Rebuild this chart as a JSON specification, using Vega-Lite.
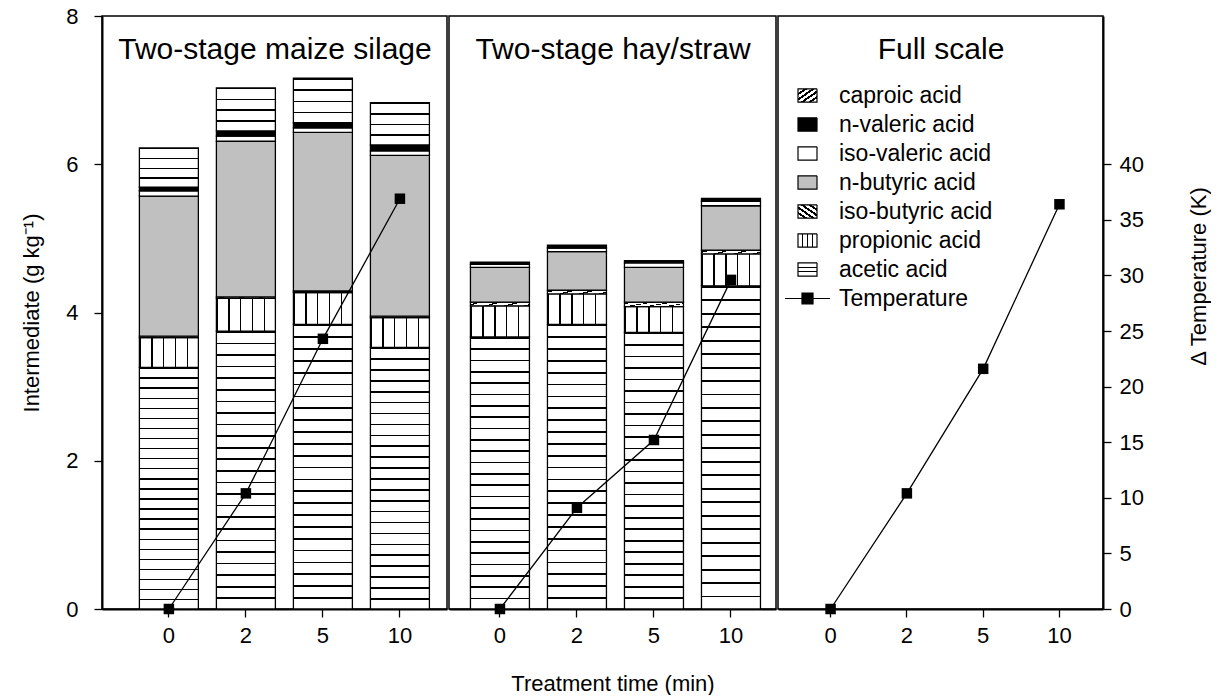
{
  "$schema": "https://vega.github.io/schema/vega-lite/v6.json",
  "background": "white",
  "padding": {"top": 4, "left": 20, "right": 0, "bottom": 0},
  "spacing": 0,
  "datasets": {
    "acidOrder": [
      {"acid": "acetic acid", "rank": 1},
      {"acid": "propionic acid", "rank": 2},
      {"acid": "iso-butyric acid", "rank": 3},
      {"acid": "n-butyric acid", "rank": 4},
      {"acid": "iso-valeric acid", "rank": 5},
      {"acid": "n-valeric acid", "rank": 6},
      {"acid": "caproic acid", "rank": 7}
    ],
    "acids": [
      {"panel": "Two-stage maize silage", "time": 0, "acid": "acetic acid", "value": 3.26},
      {"panel": "Two-stage maize silage", "time": 0, "acid": "propionic acid", "value": 0.40},
      {"panel": "Two-stage maize silage", "time": 0, "acid": "iso-butyric acid", "value": 0.02},
      {"panel": "Two-stage maize silage", "time": 0, "acid": "n-butyric acid", "value": 1.89},
      {"panel": "Two-stage maize silage", "time": 0, "acid": "iso-valeric acid", "value": 0.07},
      {"panel": "Two-stage maize silage", "time": 0, "acid": "n-valeric acid", "value": 0.05},
      {"panel": "Two-stage maize silage", "time": 0, "acid": "caproic acid", "value": 0.53},
      {"panel": "Two-stage maize silage", "time": 2, "acid": "acetic acid", "value": 3.75},
      {"panel": "Two-stage maize silage", "time": 2, "acid": "propionic acid", "value": 0.44},
      {"panel": "Two-stage maize silage", "time": 2, "acid": "iso-butyric acid", "value": 0.02},
      {"panel": "Two-stage maize silage", "time": 2, "acid": "n-butyric acid", "value": 2.10},
      {"panel": "Two-stage maize silage", "time": 2, "acid": "iso-valeric acid", "value": 0.07},
      {"panel": "Two-stage maize silage", "time": 2, "acid": "n-valeric acid", "value": 0.07},
      {"panel": "Two-stage maize silage", "time": 2, "acid": "caproic acid", "value": 0.58},
      {"panel": "Two-stage maize silage", "time": 5, "acid": "acetic acid", "value": 3.84},
      {"panel": "Two-stage maize silage", "time": 5, "acid": "propionic acid", "value": 0.43},
      {"panel": "Two-stage maize silage", "time": 5, "acid": "iso-butyric acid", "value": 0.02},
      {"panel": "Two-stage maize silage", "time": 5, "acid": "n-butyric acid", "value": 2.14},
      {"panel": "Two-stage maize silage", "time": 5, "acid": "iso-valeric acid", "value": 0.06},
      {"panel": "Two-stage maize silage", "time": 5, "acid": "n-valeric acid", "value": 0.07},
      {"panel": "Two-stage maize silage", "time": 5, "acid": "caproic acid", "value": 0.60},
      {"panel": "Two-stage maize silage", "time": 10, "acid": "acetic acid", "value": 3.53},
      {"panel": "Two-stage maize silage", "time": 10, "acid": "propionic acid", "value": 0.40},
      {"panel": "Two-stage maize silage", "time": 10, "acid": "iso-butyric acid", "value": 0.02},
      {"panel": "Two-stage maize silage", "time": 10, "acid": "n-butyric acid", "value": 2.17},
      {"panel": "Two-stage maize silage", "time": 10, "acid": "iso-valeric acid", "value": 0.06},
      {"panel": "Two-stage maize silage", "time": 10, "acid": "n-valeric acid", "value": 0.08},
      {"panel": "Two-stage maize silage", "time": 10, "acid": "caproic acid", "value": 0.57},
      {"panel": "Two-stage hay/straw", "time": 0, "acid": "acetic acid", "value": 3.67},
      {"panel": "Two-stage hay/straw", "time": 0, "acid": "propionic acid", "value": 0.42},
      {"panel": "Two-stage hay/straw", "time": 0, "acid": "iso-butyric acid", "value": 0.05},
      {"panel": "Two-stage hay/straw", "time": 0, "acid": "n-butyric acid", "value": 0.47},
      {"panel": "Two-stage hay/straw", "time": 0, "acid": "iso-valeric acid", "value": 0.04},
      {"panel": "Two-stage hay/straw", "time": 0, "acid": "n-valeric acid", "value": 0.03},
      {"panel": "Two-stage hay/straw", "time": 2, "acid": "acetic acid", "value": 3.84},
      {"panel": "Two-stage hay/straw", "time": 2, "acid": "propionic acid", "value": 0.41},
      {"panel": "Two-stage hay/straw", "time": 2, "acid": "iso-butyric acid", "value": 0.05},
      {"panel": "Two-stage hay/straw", "time": 2, "acid": "n-butyric acid", "value": 0.52},
      {"panel": "Two-stage hay/straw", "time": 2, "acid": "iso-valeric acid", "value": 0.05},
      {"panel": "Two-stage hay/straw", "time": 2, "acid": "n-valeric acid", "value": 0.04},
      {"panel": "Two-stage hay/straw", "time": 5, "acid": "acetic acid", "value": 3.73},
      {"panel": "Two-stage hay/straw", "time": 5, "acid": "propionic acid", "value": 0.35},
      {"panel": "Two-stage hay/straw", "time": 5, "acid": "iso-butyric acid", "value": 0.06},
      {"panel": "Two-stage hay/straw", "time": 5, "acid": "n-butyric acid", "value": 0.47},
      {"panel": "Two-stage hay/straw", "time": 5, "acid": "iso-valeric acid", "value": 0.06},
      {"panel": "Two-stage hay/straw", "time": 5, "acid": "n-valeric acid", "value": 0.03},
      {"panel": "Two-stage hay/straw", "time": 10, "acid": "acetic acid", "value": 4.36},
      {"panel": "Two-stage hay/straw", "time": 10, "acid": "propionic acid", "value": 0.43},
      {"panel": "Two-stage hay/straw", "time": 10, "acid": "iso-butyric acid", "value": 0.05},
      {"panel": "Two-stage hay/straw", "time": 10, "acid": "n-butyric acid", "value": 0.60},
      {"panel": "Two-stage hay/straw", "time": 10, "acid": "iso-valeric acid", "value": 0.06},
      {"panel": "Two-stage hay/straw", "time": 10, "acid": "n-valeric acid", "value": 0.04}
    ],
    "temp": [
      {"panel": "Two-stage maize silage", "time": 0, "temp": 0},
      {"panel": "Two-stage maize silage", "time": 2, "temp": 10.4},
      {"panel": "Two-stage maize silage", "time": 5, "temp": 24.3},
      {"panel": "Two-stage maize silage", "time": 10, "temp": 36.9},
      {"panel": "Two-stage hay/straw", "time": 0, "temp": 0},
      {"panel": "Two-stage hay/straw", "time": 2, "temp": 9.1},
      {"panel": "Two-stage hay/straw", "time": 5, "temp": 15.2},
      {"panel": "Two-stage hay/straw", "time": 10, "temp": 29.6},
      {"panel": "Full scale", "time": 0, "temp": 0},
      {"panel": "Full scale", "time": 2, "temp": 10.4},
      {"panel": "Full scale", "time": 5, "temp": 21.6},
      {"panel": "Full scale", "time": 10, "temp": 36.4}
    ]
  },
  "resolve": {"legend": {"strokeDash": "independent"}},
  "hconcat": [
    {
      "width": 345,
      "height": 593,
      "layer": [
        {
          "data": {"name": "acids"},
          "transform": [
            {"filter": "datum.panel === 'Two-stage maize silage'"},
            {"lookup": "acid", "from": {"data": {"name": "acidOrder"}, "key": "acid", "fields": ["rank"]}}
          ],
          "mark": {"type": "bar", "stroke": "#000", "strokeWidth": 1.3},
          "encoding": {
            "x": {"field": "time", "type": "ordinal",
                  "scale": {"domain": [0, 2, 5, 10], "paddingInner": 0.234, "paddingOuter": 0.357, "align": 0.68},
                  "axis": {"orient": "bottom", "title": null, "labelAngle": 0}},
            "y": {"field": "value", "type": "quantitative", "stack": "zero",
                  "scale": {"domain": [0, 8], "nice": false},
                  "axis": {"values": [0, 2, 4, 6, 8], "title": "Intermediate (g kg⁻¹)", "titlePadding": 22, "labelPadding": 16}},
            "order": {"field": "rank", "type": "quantitative"},
            "strokeDash": {"field": "acid", "type": "nominal", "legend": null,
                           "scale": {"domain": ["caproic acid", "n-valeric acid", "iso-valeric acid", "n-butyric acid", "iso-butyric acid", "propionic acid", "acetic acid", "Temperature"],
                                     "range": [[1, 0], [1, 0], [1, 0], [1, 0], [1, 0], [1, 0], [1, 0], [1, 0]]}},
            "color": {"field": "acid", "type": "nominal", "legend": null,
                      "scale": {
                        "domain": ["caproic acid", "n-valeric acid", "iso-valeric acid", "n-butyric acid", "iso-butyric acid", "propionic acid", "acetic acid"],
                        "range": [
                          {"expr": "{gradient:'linear',x1:0,y1:0,x2:0,y2:1,stops:[{offset:0,color:'#000'},{offset:0.035,color:'#000'},{offset:0.035,color:'#fff'},{offset:0.25,color:'#fff'},{offset:0.25,color:'#000'},{offset:0.285,color:'#000'},{offset:0.285,color:'#fff'},{offset:0.5,color:'#fff'},{offset:0.5,color:'#000'},{offset:0.535,color:'#000'},{offset:0.535,color:'#fff'},{offset:0.75,color:'#fff'},{offset:0.75,color:'#000'},{offset:0.785,color:'#000'},{offset:0.785,color:'#fff'},{offset:1,color:'#fff'}]}"},
                          "#000",
                          "#fff",
                          "#c0c0c0",
                          {"expr": "{gradient:'linear',x1:0,y1:1,x2:1,y2:0,stops:[{offset:0,color:'#000'},{offset:0.04,color:'#000'},{offset:0.04,color:'#fff'},{offset:0.167,color:'#fff'},{offset:0.167,color:'#000'},{offset:0.207,color:'#000'},{offset:0.207,color:'#fff'},{offset:0.333,color:'#fff'},{offset:0.333,color:'#000'},{offset:0.373,color:'#000'},{offset:0.373,color:'#fff'},{offset:0.5,color:'#fff'},{offset:0.5,color:'#000'},{offset:0.54,color:'#000'},{offset:0.54,color:'#fff'},{offset:0.667,color:'#fff'},{offset:0.667,color:'#000'},{offset:0.707,color:'#000'},{offset:0.707,color:'#fff'},{offset:0.833,color:'#fff'},{offset:0.833,color:'#000'},{offset:0.873,color:'#000'},{offset:0.873,color:'#fff'},{offset:1,color:'#fff'}]}"},
                          {"expr": "{gradient:'linear',x1:0,y1:0,x2:1,y2:0,stops:[{offset:0,color:'#000'},{offset:0.025,color:'#000'},{offset:0.025,color:'#fff'},{offset:0.2,color:'#fff'},{offset:0.2,color:'#000'},{offset:0.225,color:'#000'},{offset:0.225,color:'#fff'},{offset:0.4,color:'#fff'},{offset:0.4,color:'#000'},{offset:0.425,color:'#000'},{offset:0.425,color:'#fff'},{offset:0.6,color:'#fff'},{offset:0.6,color:'#000'},{offset:0.625,color:'#000'},{offset:0.625,color:'#fff'},{offset:0.8,color:'#fff'},{offset:0.8,color:'#000'},{offset:0.825,color:'#000'},{offset:0.825,color:'#fff'},{offset:1,color:'#fff'}]}"},
                          {"expr": "{gradient:'linear',x1:0,y1:0,x2:0,y2:1,stops:[{offset:0,color:'#000'},{offset:0.006,color:'#000'},{offset:0.006,color:'#fff'},{offset:0.0417,color:'#fff'},{offset:0.0417,color:'#000'},{offset:0.0477,color:'#000'},{offset:0.0477,color:'#fff'},{offset:0.0833,color:'#fff'},{offset:0.0833,color:'#000'},{offset:0.0893,color:'#000'},{offset:0.0893,color:'#fff'},{offset:0.125,color:'#fff'},{offset:0.125,color:'#000'},{offset:0.131,color:'#000'},{offset:0.131,color:'#fff'},{offset:0.1667,color:'#fff'},{offset:0.1667,color:'#000'},{offset:0.1727,color:'#000'},{offset:0.1727,color:'#fff'},{offset:0.2083,color:'#fff'},{offset:0.2083,color:'#000'},{offset:0.2143,color:'#000'},{offset:0.2143,color:'#fff'},{offset:0.25,color:'#fff'},{offset:0.25,color:'#000'},{offset:0.256,color:'#000'},{offset:0.256,color:'#fff'},{offset:0.2917,color:'#fff'},{offset:0.2917,color:'#000'},{offset:0.2977,color:'#000'},{offset:0.2977,color:'#fff'},{offset:0.3333,color:'#fff'},{offset:0.3333,color:'#000'},{offset:0.3393,color:'#000'},{offset:0.3393,color:'#fff'},{offset:0.375,color:'#fff'},{offset:0.375,color:'#000'},{offset:0.381,color:'#000'},{offset:0.381,color:'#fff'},{offset:0.4167,color:'#fff'},{offset:0.4167,color:'#000'},{offset:0.4227,color:'#000'},{offset:0.4227,color:'#fff'},{offset:0.4583,color:'#fff'},{offset:0.4583,color:'#000'},{offset:0.4643,color:'#000'},{offset:0.4643,color:'#fff'},{offset:0.5,color:'#fff'},{offset:0.5,color:'#000'},{offset:0.506,color:'#000'},{offset:0.506,color:'#fff'},{offset:0.5417,color:'#fff'},{offset:0.5417,color:'#000'},{offset:0.5477,color:'#000'},{offset:0.5477,color:'#fff'},{offset:0.5833,color:'#fff'},{offset:0.5833,color:'#000'},{offset:0.5893,color:'#000'},{offset:0.5893,color:'#fff'},{offset:0.625,color:'#fff'},{offset:0.625,color:'#000'},{offset:0.631,color:'#000'},{offset:0.631,color:'#fff'},{offset:0.6667,color:'#fff'},{offset:0.6667,color:'#000'},{offset:0.6727,color:'#000'},{offset:0.6727,color:'#fff'},{offset:0.7083,color:'#fff'},{offset:0.7083,color:'#000'},{offset:0.7143,color:'#000'},{offset:0.7143,color:'#fff'},{offset:0.75,color:'#fff'},{offset:0.75,color:'#000'},{offset:0.756,color:'#000'},{offset:0.756,color:'#fff'},{offset:0.7917,color:'#fff'},{offset:0.7917,color:'#000'},{offset:0.7977,color:'#000'},{offset:0.7977,color:'#fff'},{offset:0.8333,color:'#fff'},{offset:0.8333,color:'#000'},{offset:0.8393,color:'#000'},{offset:0.8393,color:'#fff'},{offset:0.875,color:'#fff'},{offset:0.875,color:'#000'},{offset:0.881,color:'#000'},{offset:0.881,color:'#fff'},{offset:0.9167,color:'#fff'},{offset:0.9167,color:'#000'},{offset:0.9227,color:'#000'},{offset:0.9227,color:'#fff'},{offset:0.9583,color:'#fff'},{offset:0.9583,color:'#000'},{offset:0.9643,color:'#000'},{offset:0.9643,color:'#fff'},{offset:1,color:'#fff'}]}"}
                        ]
                      }}
          }
        },
        {
          "data": {"name": "temp"},
          "transform": [{"filter": "datum.panel === 'Two-stage maize silage'"}],
          "encoding": {
            "x": {"field": "time", "type": "ordinal",
                  "axis": {"orient": "top", "labels": false, "ticks": false, "domain": false, "title": "Two-stage maize silage",
                           "titleFontSize": 30, "titleY": 42, "titleBaseline": "alphabetic", "titlePadding": 0}},
            "y": {"field": "temp", "type": "quantitative", "scale": {"domain": [0, 53.333], "nice": false}, "axis": null}
          },
          "layer": [
            {"mark": {"type": "line", "color": "#000", "strokeWidth": 1.3}},
            {"mark": {"type": "point", "shape": "square", "filled": true, "size": 110, "color": "#000", "opacity": 1}}
          ]
        }
      ],
      "resolve": {"scale": {"y": "independent"}, "axis": {"x": "independent"}}
    },
    {
      "width": 327,
      "height": 593,
      "layer": [
        {
          "data": {"name": "acids"},
          "transform": [
            {"filter": "datum.panel === 'Two-stage hay/straw'"},
            {"lookup": "acid", "from": {"data": {"name": "acidOrder"}, "key": "acid", "fields": ["rank"]}}
          ],
          "mark": {"type": "bar", "stroke": "#000", "strokeWidth": 1.3},
          "encoding": {
            "x": {"field": "time", "type": "ordinal",
                  "scale": {"domain": [0, 2, 5, 10], "paddingInner": 0.234, "paddingOuter": 0.24, "align": 0.58},
                  "axis": {"orient": "bottom", "title": "Treatment time (min)", "labelAngle": 0, "titlePadding": 27}},
            "y": {"field": "value", "type": "quantitative", "stack": "zero",
                  "scale": {"domain": [0, 8], "nice": false}, "axis": null},
            "order": {"field": "rank", "type": "quantitative"},
            "strokeDash": {"field": "acid", "type": "nominal", "legend": null},
            "color": {"field": "acid", "type": "nominal", "legend": null}
          }
        },
        {
          "data": {"name": "temp"},
          "transform": [{"filter": "datum.panel === 'Two-stage hay/straw'"}],
          "encoding": {
            "x": {"field": "time", "type": "ordinal",
                  "axis": {"orient": "top", "labels": false, "ticks": false, "domain": false, "title": "Two-stage hay/straw",
                           "titleFontSize": 30, "titleY": 42, "titleBaseline": "alphabetic", "titlePadding": 0}},
            "y": {"field": "temp", "type": "quantitative", "scale": {"domain": [0, 53.333], "nice": false}, "axis": null}
          },
          "layer": [
            {"mark": {"type": "line", "color": "#000", "strokeWidth": 1.3}},
            {"mark": {"type": "point", "shape": "square", "filled": true, "size": 110, "color": "#000", "opacity": 1}}
          ]
        }
      ],
      "resolve": {"scale": {"y": "independent"}, "axis": {"x": "independent"}}
    },
    {
      "width": 325,
      "height": 593,
      "layer": [
        {
          "data": {"name": "acids"},
          "transform": [
            {"filter": "datum.panel === 'Full scale'"},
            {"lookup": "acid", "from": {"data": {"name": "acidOrder"}, "key": "acid", "fields": ["rank"]}}
          ],
          "mark": {"type": "bar", "stroke": "#000", "strokeWidth": 1.3},
          "encoding": {
            "x": {"field": "time", "type": "ordinal",
                  "scale": {"domain": [0, 2, 5, 10], "paddingInner": 0.234, "paddingOuter": 0.247, "align": 0.62},
                  "axis": {"orient": "bottom", "title": null, "labelAngle": 0}},
            "y": {"field": "value", "type": "quantitative", "stack": "zero",
                  "scale": {"domain": [0, 8], "nice": false}, "axis": null},
            "order": {"field": "rank", "type": "quantitative"},
            "color": {"field": "acid", "type": "nominal", "legend": null},
            "strokeDash": {"field": "acid", "type": "nominal",
                           "legend": {
                             "orient": "none", "legendX": 18, "legendY": 68, "title": null, "padding": 0,
                             "symbolType": "square", "symbolSize": 361,
                             "labelFontSize": 23, "labelColor": "#000", "labelOffset": 20, "rowPadding": 5,
                             "encoding": {"symbols": {
                               "opacity": {"value": 1},
                               "stroke": {"value": "#000"},
                               "strokeWidth": {"value": 1.2},
                               "shape": {"value": {"expr": "datum.value === 'Temperature' ? 'M-1,0L1,0M-0.245,-0.245L0.245,-0.245L0.245,0.245L-0.245,0.245Z' : 'M-1,-0.7H1V0.7H-1Z'"}},
                               "size": {"value": {"expr": "datum.value === 'Temperature' ? 2025 : 361"}},
                               "fill": {"value": {"expr": "datum.value === 'caproic acid' ? {gradient: 'linear', x1: 0, y1: 0, x2: 1, y2: 1, stops: [{offset: 0, color: '#fff'}, {offset: 0.16, color: '#fff'}, {offset: 0.16, color: '#000'}, {offset: 0.25, color: '#000'}, {offset: 0.25, color: '#fff'}, {offset: 0.36, color: '#fff'}, {offset: 0.36, color: '#000'}, {offset: 0.45, color: '#000'}, {offset: 0.45, color: '#fff'}, {offset: 0.56, color: '#fff'}, {offset: 0.56, color: '#000'}, {offset: 0.65, color: '#000'}, {offset: 0.65, color: '#fff'}, {offset: 0.76, color: '#fff'}, {offset: 0.76, color: '#000'}, {offset: 0.85, color: '#000'}, {offset: 0.85, color: '#fff'}, {offset: 1, color: '#fff'}]} : datum.value === 'iso-butyric acid' ? {gradient: 'linear', x1: 0, y1: 1, x2: 1, y2: 0, stops: [{offset: 0, color: '#fff'}, {offset: 0.16, color: '#fff'}, {offset: 0.16, color: '#000'}, {offset: 0.25, color: '#000'}, {offset: 0.25, color: '#fff'}, {offset: 0.36, color: '#fff'}, {offset: 0.36, color: '#000'}, {offset: 0.45, color: '#000'}, {offset: 0.45, color: '#fff'}, {offset: 0.56, color: '#fff'}, {offset: 0.56, color: '#000'}, {offset: 0.65, color: '#000'}, {offset: 0.65, color: '#fff'}, {offset: 0.76, color: '#fff'}, {offset: 0.76, color: '#000'}, {offset: 0.85, color: '#000'}, {offset: 0.85, color: '#fff'}, {offset: 1, color: '#fff'}]} : datum.value === 'propionic acid' ? {gradient: 'linear', x1: 0, y1: 0, x2: 1, y2: 0, stops: [{offset: 0, color: '#fff'}, {offset: 0.215, color: '#fff'}, {offset: 0.215, color: '#000'}, {offset: 0.285, color: '#000'}, {offset: 0.285, color: '#fff'}, {offset: 0.465, color: '#fff'}, {offset: 0.465, color: '#000'}, {offset: 0.535, color: '#000'}, {offset: 0.535, color: '#fff'}, {offset: 0.715, color: '#fff'}, {offset: 0.715, color: '#000'}, {offset: 0.785, color: '#000'}, {offset: 0.785, color: '#fff'}, {offset: 1, color: '#fff'}]} : datum.value === 'acetic acid' ? {gradient: 'linear', x1: 0, y1: 0, x2: 0, y2: 1, stops: [{offset: 0, color: '#fff'}, {offset: 0.29, color: '#fff'}, {offset: 0.29, color: '#000'}, {offset: 0.38, color: '#000'}, {offset: 0.38, color: '#fff'}, {offset: 0.62, color: '#fff'}, {offset: 0.62, color: '#000'}, {offset: 0.71, color: '#000'}, {offset: 0.71, color: '#fff'}, {offset: 1, color: '#fff'}]} : datum.value === 'n-butyric acid' ? '#c0c0c0' : datum.value === 'iso-valeric acid' ? '#fff' : '#000'"}}
                             }}
                           }}
          }
        },
        {
          "data": {"name": "temp"},
          "transform": [{"filter": "datum.panel === 'Full scale'"}],
          "encoding": {
            "x": {"field": "time", "type": "ordinal",
                  "axis": {"orient": "top", "labels": false, "ticks": false, "domain": false, "title": "Full scale",
                           "titleFontSize": 30, "titleY": 42, "titleBaseline": "alphabetic", "titlePadding": 0}},
            "y": {"field": "temp", "type": "quantitative", "scale": {"domain": [0, 53.333], "nice": false},
                  "axis": {"orient": "right", "values": [0, 5, 10, 15, 20, 25, 30, 35, 40], "title": "Δ Temperature (K)",
                           "titleAngle": 270, "titleBaseline": "top", "titleAlign": "center", "titleY": 260, "titlePadding": 45}}
          },
          "layer": [
            {"mark": {"type": "line", "color": "#000", "strokeWidth": 1.3}},
            {"mark": {"type": "point", "shape": "square", "filled": true, "size": 110, "color": "#000", "opacity": 1}}
          ]
        }
      ],
      "resolve": {"scale": {"y": "independent"}, "axis": {"x": "independent"}}
    }
  ],
  "config": {
    "font": "Liberation Sans",
    "view": {"stroke": "#000", "strokeWidth": 1.5},
    "axis": {
      "grid": false, "domainColor": "#000", "domainWidth": 2, "tickColor": "#000", "tickWidth": 1.3, "tickSize": 8,
      "labelFont": "Liberation Sans", "labelFontSize": 22, "labelColor": "#000", "labelPadding": 8,
      "titleFont": "Liberation Sans", "titleFontSize": 22, "titleFontWeight": "normal", "titleColor": "#000"
    },
    "legend": {"labelFont": "Liberation Sans"}
  }
}
